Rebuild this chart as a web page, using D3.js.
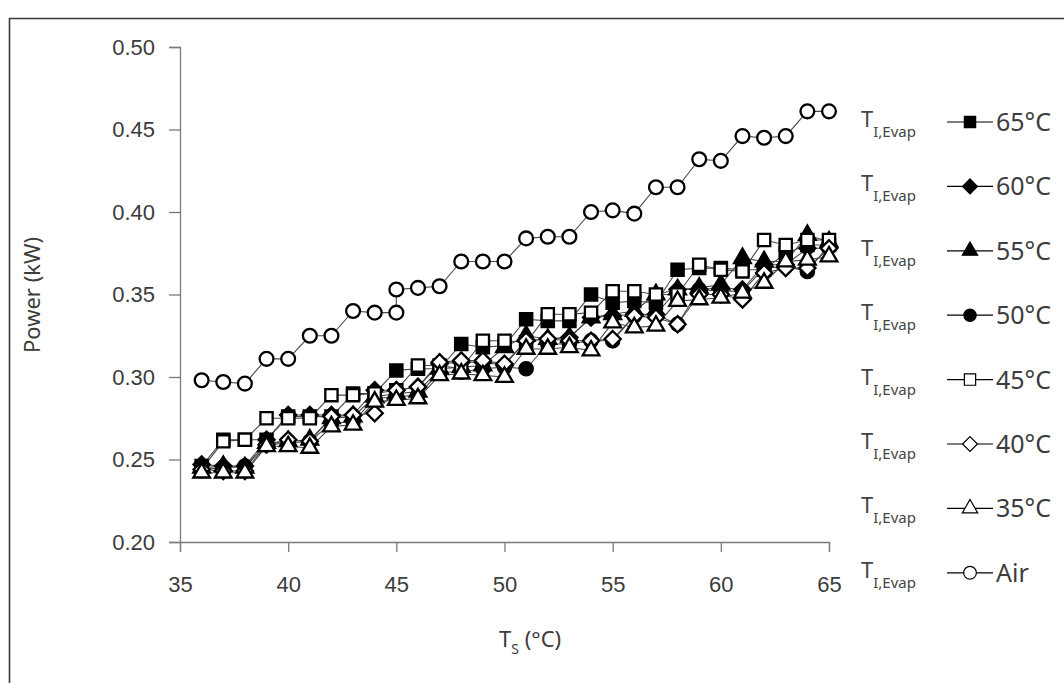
<!DOCTYPE html>
<html>
<head>
<meta charset="utf-8">
<script src="https://cdn.jsdelivr.net/npm/d3@7"></script>
<style>
  html, body { margin: 0; padding: 0; background: #fff; }
  svg { display: block; font-family: "Noto Sans", "Open Sans", sans-serif; }
  .axis path, .axis line { stroke: #7a7a7a; stroke-width: 1.3; }
  .axis text { fill: #3c3c3c; font-size: 22px; }
</style>
</head>
<body>
<svg id="chart" width="1064" height="683"></svg>
<script>
// ---- data ------------------------------------------------------------------
const xs = [36, 37, 38, 39, 40, 41, 42, 43, 44, 45, 46, 47, 48, 49, 50,
            51, 52, 53, 54, 55, 56, 57, 58, 59, 60, 61, 62, 63, 64, 65];

const p65 = [0.246, 0.262, 0.262, 0.262, 0.276, 0.276, 0.276, 0.290, 0.290, 0.304, 0.305, 0.305, 0.320, 0.318, 0.319,
             0.335, 0.334, 0.334, 0.350, 0.345, 0.346, 0.345, 0.365, 0.366, 0.366, 0.365, 0.365, 0.375, 0.380, 0.380];
const p60 = [0.247, 0.246, 0.246, 0.262, 0.277, 0.277, 0.277, 0.277, 0.292, 0.292, 0.294, 0.308, 0.309, 0.309, 0.307,
             0.322, 0.323, 0.324, 0.336, 0.337, 0.338, 0.338, 0.353, 0.353, 0.354, 0.353, 0.368, 0.368, 0.378, 0.378];
const p55 = [0.245, 0.246, 0.245, 0.260, 0.261, 0.262, 0.275, 0.276, 0.288, 0.290, 0.291, 0.305, 0.306, 0.307, 0.318,
             0.325, 0.323, 0.324, 0.336, 0.338, 0.340, 0.350, 0.353, 0.354, 0.356, 0.372, 0.370, 0.370, 0.386, 0.382];
const p50 = [0.244, 0.245, 0.246, 0.259, 0.260, 0.261, 0.272, 0.273, 0.287, 0.288, 0.289, 0.303, 0.303, 0.305, 0.306,
             0.305, 0.320, 0.320, 0.322, 0.322, 0.337, 0.338, 0.332, 0.353, 0.352, 0.352, 0.366, 0.367, 0.364, 0.380];
const p45 = [0.244, 0.261, 0.262, 0.275, 0.275, 0.275, 0.289, 0.289, 0.290, 0.292, 0.307, 0.307, 0.305, 0.322, 0.322,
             0.321, 0.338, 0.338, 0.339, 0.352, 0.352, 0.350, 0.350, 0.368, 0.365, 0.364, 0.383, 0.380, 0.383, 0.383];
const p40 = [0.244, 0.243, 0.243, 0.259, 0.262, 0.261, 0.276, 0.277, 0.278, 0.292, 0.294, 0.309, 0.310, 0.310, 0.308,
             0.322, 0.323, 0.322, 0.322, 0.323, 0.337, 0.336, 0.332, 0.350, 0.350, 0.347, 0.363, 0.366, 0.366, 0.378];
const p35 = [0.242, 0.242, 0.242, 0.258, 0.258, 0.257, 0.270, 0.271, 0.285, 0.286, 0.287, 0.301, 0.302, 0.301, 0.300,
             0.317, 0.317, 0.318, 0.316, 0.333, 0.330, 0.331, 0.346, 0.347, 0.348, 0.351, 0.357, 0.370, 0.371, 0.373];

// Air has two readings at 45 °C
const xsAir = [36, 37, 38, 39, 40, 41, 42, 43, 44, 45, 45, 46, 47, 48, 49, 50,
               51, 52, 53, 54, 55, 56, 57, 58, 59, 60, 61, 62, 63, 64, 65];
const pAir = [0.298, 0.297, 0.296, 0.311, 0.311, 0.325, 0.325, 0.340, 0.339, 0.339, 0.353, 0.354, 0.355, 0.370, 0.370, 0.370,
              0.384, 0.385, 0.385, 0.400, 0.401, 0.399, 0.415, 0.415, 0.432, 0.431, 0.446, 0.445, 0.446, 0.461, 0.461];

const seriesLabels = ["65°C", "60°C", "55°C", "50°C", "45°C", "40°C", "35°C", "Air"];
const xTicks = [35, 40, 45, 50, 55, 60, 65];
const yTicks = [0.20, 0.25, 0.30, 0.35, 0.40, 0.45, 0.50];

// ---- layout ------------------------------------------------------------------
const svg = d3.select("#chart");
const x = d3.scaleLinear().domain([35, 65]).range([180, 829]);
const y = d3.scaleLinear().domain([0.20, 0.50]).range([542, 47]);

// frame round the figure
svg.append("path").attr("d", "M9.5,683 V18.5 H1064")
  .attr("fill", "none").attr("stroke", "#3a3a3a").attr("stroke-width", 1.6);

// axes
svg.append("g").attr("class", "axis").attr("transform", "translate(180,0)")
  .call(d3.axisLeft(y).tickValues(yTicks).tickFormat(d3.format(".2f")).tickSize(11).tickPadding(14));
svg.append("g").attr("class", "axis").attr("transform", "translate(0,542)")
  .call(d3.axisBottom(x).tickValues(xTicks).tickFormat(d3.format("d")).tickSize(10).tickPadding(24));

// axis titles
svg.append("text").attr("transform", "translate(40,295) rotate(-90)")
  .attr("text-anchor", "middle").attr("fill", "#3c3c3c").attr("font-size", 22).text("Power (kW)");
const xt = svg.append("text").attr("x", 499).attr("y", 647).attr("fill", "#3c3c3c").attr("font-size", 22);
xt.append("tspan").text("T");
xt.append("tspan").attr("font-size", 14).attr("dy", 7).text("S");
xt.append("tspan").attr("dy", -7).text(" (°C)");

// ---- markers -----------------------------------------------------------------
const diamond = { draw(ctx, size) {
  const r = Math.sqrt(size / 2);
  ctx.moveTo(0, -r); ctx.lineTo(r, 0); ctx.lineTo(0, r); ctx.lineTo(-r, 0); ctx.closePath();
} };
const shapes = [
  { type: d3.symbolSquare,   fill: "#000", size: 150 },
  { type: diamond,           fill: "#000", size: 130 },
  { type: d3.symbolTriangle, fill: "#000", size: 120 },
  { type: d3.symbolCircle,   fill: "#000", size: 140 },
  { type: d3.symbolSquare,   fill: "#fff", size: 150 },
  { type: diamond,           fill: "#fff", size: 130 },
  { type: d3.symbolTriangle, fill: "#fff", size: 120 },
  { type: d3.symbolCircle,   fill: "#fff", size: 150 },
];

const series = [p65, p60, p55, p50, p45, p40, p35].map((v, i) => ({
  pts: xs.map((t, j) => [t, v[j]]), shape: shapes[i]
}));
series.push({ pts: xsAir.map((t, j) => [t, pAir[j]]), shape: shapes[7] });

const line = d3.line().x((d) => x(d[0])).y((d) => y(d[1]));
const gl = svg.append("g");
series.forEach((s) => {
  gl.append("path").attr("d", line(s.pts)).attr("fill", "none")
    .attr("stroke", "#4a4a4a").attr("stroke-width", 1.1);
});
series.forEach((s) => {
  svg.append("g").selectAll("path").data(s.pts).join("path")
    .attr("transform", (d) => `translate(${x(d[0])},${y(d[1])})`)
    .attr("d", d3.symbol().type(s.shape.type).size(s.shape.size))
    .attr("fill", s.shape.fill).attr("stroke", "#000").attr("stroke-width", 2.3);
});

// ---- legend ------------------------------------------------------------------
const lg = svg.append("g");
seriesLabels.forEach((lab, i) => {
  const cy = 122 + i * 64.4;
  const sh = shapes[i];
  const t = lg.append("text").attr("x", 861).attr("y", cy + 5).attr("fill", "#454545").attr("font-size", 22);
  t.append("tspan").text("T");
  t.append("tspan").attr("font-size", 15).attr("dy", 10).text("I,Evap");
  lg.append("line").attr("x1", 947).attr("x2", 993).attr("y1", cy).attr("y2", cy)
    .attr("stroke", "#000").attr("stroke-width", 1.2);
  lg.append("path").attr("transform", `translate(970,${cy})`)
    .attr("d", d3.symbol().type(sh.type).size(sh.size * 0.85))
    .attr("fill", sh.fill).attr("stroke", "#000").attr("stroke-width", 1.2);
  lg.append("text").attr("x", 996).attr("y", cy + 9).attr("fill", "#3c3c3c")
    .attr("font-size", 25).text(lab);
});
</script>
</body>
</html>
